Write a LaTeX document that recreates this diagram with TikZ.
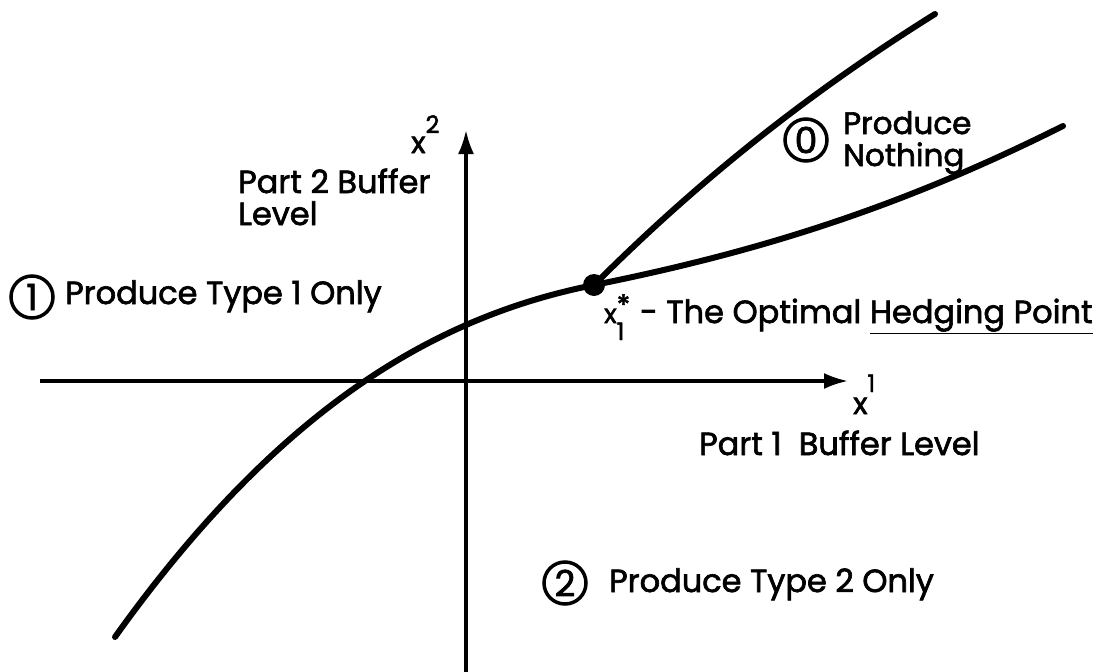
\documentclass[tikz,border=0pt]{standalone}
\usepackage{fontspec}
\setmainfont{Poppins}[FakeBold=2]
\usetikzlibrary{arrows.meta}
\begin{document}
\begin{tikzpicture}[x=1pt,y=-1pt,
  lbl/.style={anchor=base west,inner sep=0pt,font=\fontsize{32}{36}\selectfont},
  axis/.style={line width=3.2pt,-{Latex[length=24pt,width=16pt]}},
  curve/.style={line width=6pt,line cap=round},
  ring/.style={circle,draw,line width=3.5pt,minimum size=42pt,inner sep=0pt,font=\fontsize{36}{36}\selectfont}]
\useasboundingbox (0,0) rectangle (1104,672);
% axes
\coordinate (xs) at (40,381);
\coordinate (xe) at (848,381);
\coordinate (ys) at (466,672);
\coordinate (ye) at (466,130);
\draw[axis] (xs) -- (xe);
\draw[axis] (ys) -- (ye);
% hedging point
\node[circle,fill,minimum size=22pt,inner sep=0pt] (hp) at (594,285) {};
% switching curve
\coordinate (cs) at (115,637);
\coordinate (ce) at (1063,126);
\coordinate (ue) at (935,14);
\draw[curve] (cs) .. controls (285,399) and (444,315) .. (hp.center)
  .. controls (774,249) and (913,201) .. (ce);
\draw[curve] (hp.center) .. controls (704,175) and (815,89) .. (ue);
% labels
\node[lbl] (x2) at (411,153) {{\fontsize{30}{30}\selectfont x}\raisebox{20pt}{\fontsize{24}{24}\selectfont 2}};
\node[lbl] (p2a) at (238,193) {Part 2 Buffer};
\node[lbl] (p2b) at (238,225) {Level};
\node[ring] (c1) at (32,297) {1};
\node[lbl] (t1) at (65,304) {Produce Type 1 Only};
\node[ring] (c0) at (806,140) {0};
\node[lbl,font=\fontsize{31}{34}\selectfont] (t0a) at (843,134) {Produce};
\node[lbl,font=\fontsize{31}{34}\selectfont] (t0b) at (843,166) {Nothing};
\node[lbl] (hpx) at (604,323) {{\fontsize{26}{26}\selectfont x\makebox[0pt][l]{\raisebox{8pt}{\fontsize{28}{28}\selectfont *}}\raisebox{-17pt}{\fontsize{24}{24}\selectfont 1}}};
\node[lbl] (hpl) at (640,323) {- The Optimal \underline{Hedging Point}};
\node[lbl] (x1) at (853,414) {{\fontsize{30}{30}\selectfont x}\raisebox{22pt}{\fontsize{24}{24}\selectfont 1}};
\node[lbl] (p1) at (699,455) {Part 1\ \ Buffer Level};
\node[ring] (c2) at (565,583) {2};
\node[lbl] (t2) at (609,592) {Produce Type 2 Only};
\end{tikzpicture}
\end{document}
